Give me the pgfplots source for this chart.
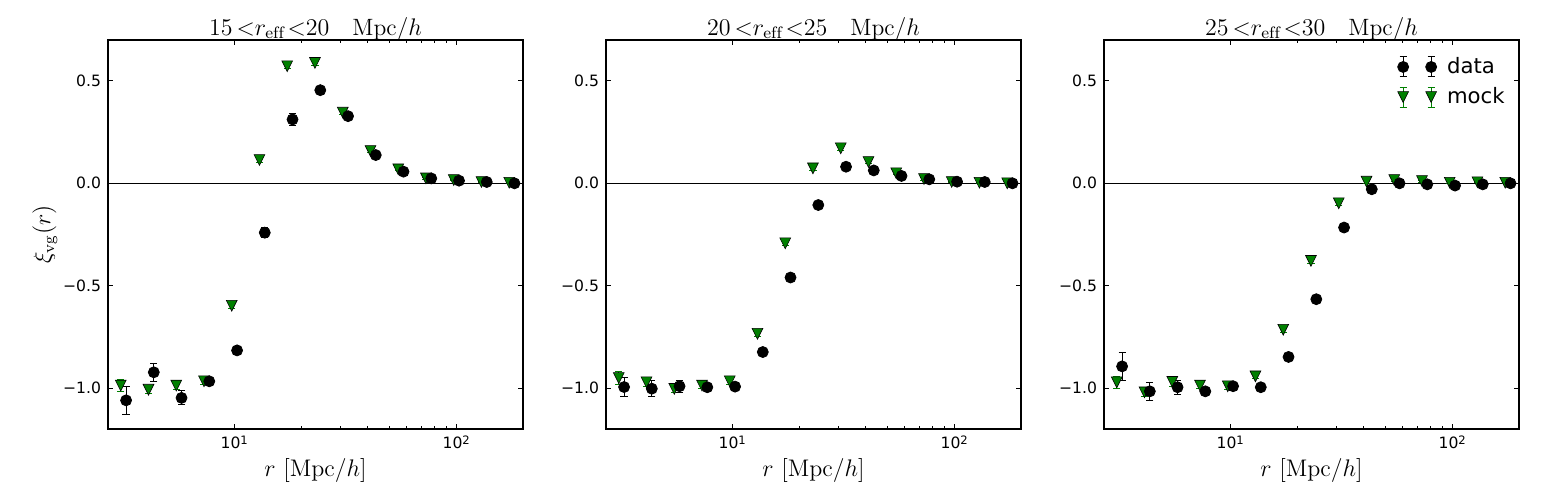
\documentclass[border=0pt]{standalone}
\usepackage{fontspec}
\usepackage{pgfplots}
\usepackage{pgfplotstable}
\pgfplotsset{compat=1.18}
\newfontfamily\dejavu{DejaVu Sans}
\definecolor{mplgreen}{rgb}{0,0.5,0}

\pgfdeclareplotmark{tdown}{%
  \pgfpathmoveto{\pgfqpoint{0pt}{-\pgfplotmarksize}}%
  \pgfpathlineto{\pgfqpoint{-\pgfplotmarksize}{\pgfplotmarksize}}%
  \pgfpathlineto{\pgfqpoint{\pgfplotmarksize}{\pgfplotmarksize}}%
  \pgfpathclose\pgfusepathqfillstroke}

\pgfplotstableread{
x y e
3.083 -0.988 0.030
4.110 -1.008 0.020
5.482 -0.988 0.020
7.309 -0.967 0.015
9.745 -0.598 0.015
12.99 0.114 0.012
17.33 0.572 0.012
23.10 0.588 0.012
30.83 0.345 0.010
41.10 0.158 0.008
54.82 0.068 0.006
73.09 0.024 0.005
97.45 0.016 0.004
129.9 0.0065 0.003
173.3 0.003 0.003
}\mockA
\pgfplotstableread{
x y e
3.257 -1.060 0.070
4.342 -0.923 0.045
5.790 -1.048 0.034
7.722 -0.967 0.020
10.30 -0.816 0.020
13.73 -0.241 0.025
18.31 0.312 0.028
24.42 0.455 0.020
32.57 0.328 0.015
43.42 0.138 0.012
57.90 0.057 0.010
77.22 0.024 0.008
103.0 0.013 0.006
137.3 0.0065 0.005
183.1 0.000 0.004
}\dataA
\pgfplotstableread{
x y e
3.083 -0.951 0.030
4.110 -0.972 0.020
5.482 -1.004 0.020
7.309 -0.988 0.015
9.745 -0.967 0.015
12.99 -0.735 0.012
17.33 -0.293 0.012
23.10 0.073 0.012
30.83 0.171 0.010
41.10 0.104 0.008
54.82 0.049 0.006
73.09 0.021 0.005
97.45 0.0065 0.004
129.9 0.003 0.003
173.3 0.000 0.003
}\mockB
\pgfplotstableread{
x y e
3.257 -0.995 0.045
4.342 -1.003 0.040
5.790 -0.991 0.030
7.722 -0.996 0.020
10.30 -0.993 0.020
13.73 -0.824 0.015
18.31 -0.460 0.015
24.42 -0.106 0.012
32.57 0.081 0.010
43.42 0.063 0.010
57.90 0.036 0.008
77.22 0.0195 0.006
103.0 0.008 0.005
137.3 0.0065 0.004
183.1 0.000 0.004
}\dataB
\pgfplotstableread{
x y e
3.083 -0.972 0.030
4.110 -1.021 0.020
5.482 -0.970 0.020
7.309 -0.988 0.015
9.745 -0.991 0.015
12.99 -0.943 0.012
17.33 -0.715 0.012
23.10 -0.379 0.012
30.83 -0.0975 0.010
41.10 0.008 0.008
54.82 0.016 0.006
73.09 0.011 0.005
97.45 0.003 0.004
129.9 0.005 0.003
173.3 0.003 0.003
}\mockC
\pgfplotstableread{
x y e
3.257 -0.894 0.070
4.342 -1.016 0.045
5.790 -0.996 0.035
7.722 -1.016 0.020
10.30 -0.991 0.020
13.73 -0.996 0.015
18.31 -0.848 0.015
24.42 -0.566 0.012
32.57 -0.216 0.010
43.42 -0.029 0.010
57.90 0.000 0.008
77.22 -0.005 0.006
103.0 -0.011 0.005
137.3 -0.005 0.004
183.1 0.000 0.004
}\dataC

\newcommand\supone{10\raisebox{0.5ex}{\fontsize{5.8}{7}\selectfont 1}}
\newcommand\suptwo{10\raisebox{0.5ex}{\fontsize{5.8}{7}\selectfont 2}}

\pgfplotsset{
  every axis/.append style={
    scale only axis, width=207.5pt, height=194.5pt,
    xmin=2.7, xmax=200,
    ymin=-1.2, ymax=0.7,
    xtick={10,100},
    xticklabels={\supone,\suptwo},
    ytick={-1,-0.5,0,0.5},
    yticklabels={−1.0,−0.5,0.0,0.5},
    tick align=inside,
    major tick length=2.6pt, minor tick length=1.4pt,
    axis line style={line width=0.8pt},
    ticklabel style={font=\dejavu\fontsize{7.8}{9}\selectfont},
    xlabel style={font=\fontsize{12}{14}\selectfont, at={(axis description cs:0.5,0)}, anchor=center, yshift=-20.5pt},
    title style={font=\fontsize{11.8}{13}\selectfont, at={(axis description cs:0.5,1)}, anchor=base, yshift=-3.5pt},
    clip=false,
  },
  every tick/.append style={black, line width=0.5pt},
  mockplot/.style={only marks, mark=tdown, mark size=2.7pt,
    mark options={fill=mplgreen, draw=black, line width=0.3pt},
    error bars/y dir=both, error bars/y explicit,
    error bars/error bar style={mplgreen, line width=0.5pt},
    error bars/error mark options={mplgreen, mark size=1.8pt, line width=0.5pt, rotate=90}},
  dataplot/.style={only marks, mark=*, mark size=2.75pt,
    mark options={fill=black, draw=black},
    error bars/y dir=both, error bars/y explicit,
    error bars/error bar style={black, line width=0.5pt},
    error bars/error mark options={black, mark size=1.8pt, line width=0.5pt, rotate=90}},
}

\begin{document}
\begin{tikzpicture}
\useasboundingbox (0,0) rectangle (775pt,250pt);

\begin{semilogxaxis}[at={(54pt,35.5pt)}, anchor=south west,
  xlabel={$r\ [\mathrm{Mpc}/h]$},
  title={$15\mkern3mu{<}r_{\mathrm{eff}}\mkern2mu{<}20\ \ \ \mathrm{Mpc}/h$},
  ylabel={$\xi_{\mathrm{vg}}(r)$},
  ylabel style={font=\fontsize{12}{14}\selectfont, at={(axis description cs:-0.152,0.5)}, anchor=center}]
  \addplot[black, line width=0.8pt, forget plot] coordinates {(2.7,0) (200,0)};
  \addplot[mockplot] table[x=x, y=y, y error=e] {\mockA};
  \addplot[dataplot] table[x=x, y=y, y error=e] {\dataA};
\end{semilogxaxis}

\begin{semilogxaxis}[at={(303pt,35.5pt)}, anchor=south west,
  xlabel={$r\ [\mathrm{Mpc}/h]$},
  title={$20\mkern3mu{<}r_{\mathrm{eff}}\mkern2mu{<}25\ \ \ \mathrm{Mpc}/h$}]
  \addplot[black, line width=0.8pt, forget plot] coordinates {(2.7,0) (200,0)};
  \addplot[mockplot] table[x=x, y=y, y error=e] {\mockB};
  \addplot[dataplot] table[x=x, y=y, y error=e] {\dataB};
\end{semilogxaxis}

\begin{semilogxaxis}[at={(552pt,35.5pt)}, anchor=south west,
  xlabel={$r\ [\mathrm{Mpc}/h]$},
  title={$25\mkern3mu{<}r_{\mathrm{eff}}\mkern2mu{<}30\ \ \ \mathrm{Mpc}/h$},
  legend style={draw=none, fill=none, at={(axis description cs:1,1)}, anchor=north east,
    xshift=-5pt, yshift=-6.5pt, inner sep=0pt,
    font=\dejavu\fontsize{10.6}{12}\selectfont, row sep=1.5pt, column sep=3pt,
    cells={anchor=west}}]
  \addplot[black, line width=0.8pt, forget plot] coordinates {(2.7,0) (200,0)};
  \addplot[mockplot, forget plot] table[x=x, y=y, y error=e] {\mockC};
  \addplot[dataplot, forget plot] table[x=x, y=y, y error=e] {\dataC};
  \addlegendimage{legend image code/.code={
      \draw[black, line width=0.5pt] (0pt,-5pt)--(0pt,5pt) (-1.8pt,-5pt)--(1.8pt,-5pt) (-1.8pt,5pt)--(1.8pt,5pt);
      \draw[black, line width=0.5pt] (14pt,-5pt)--(14pt,5pt) (12.2pt,-5pt)--(15.8pt,-5pt) (12.2pt,5pt)--(15.8pt,5pt);
      \fill[black] (0pt,0pt) circle (2.75pt);
      \fill[black] (14pt,0pt) circle (2.75pt);
    }}
  \addlegendentry{data}
  \addlegendimage{legend image code/.code={
      \draw[mplgreen, line width=0.5pt] (0pt,-5pt)--(0pt,5pt) (-1.8pt,-5pt)--(1.8pt,-5pt) (-1.8pt,5pt)--(1.8pt,5pt);
      \draw[mplgreen, line width=0.5pt] (14pt,-5pt)--(14pt,5pt) (12.2pt,-5pt)--(15.8pt,-5pt) (12.2pt,5pt)--(15.8pt,5pt);
      \filldraw[fill=mplgreen, draw=black, line width=0.3pt] (0pt,-2.7pt)--(-2.7pt,2.7pt)--(2.7pt,2.7pt)--cycle;
      \filldraw[fill=mplgreen, draw=black, line width=0.3pt] (14pt,-2.7pt)--(11.3pt,2.7pt)--(16.7pt,2.7pt)--cycle;
    }}
  \addlegendentry{mock}
\end{semilogxaxis}
\end{tikzpicture}
\end{document}
